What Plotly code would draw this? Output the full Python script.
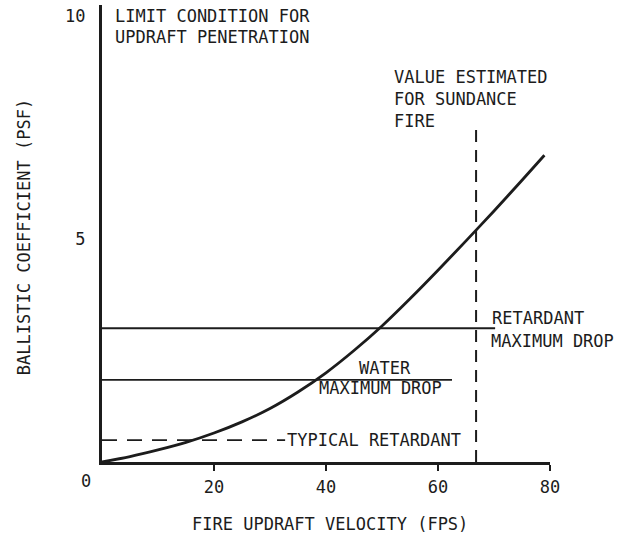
import plotly.graph_objects as go

# Ballistic coefficient required to penetrate the fire updraft
updraft_fps = [0, 5, 10, 15, 20, 25, 30, 35, 40, 45, 50, 55, 60, 65, 70, 75, 79]
ballistic_psf = [0, 0.12, 0.27, 0.44, 0.65, 0.9, 1.2, 1.57, 2.0, 2.5, 3.05, 3.66, 4.30,
                 4.96, 5.63, 6.32, 6.88]

# Reference levels (PSF) and the velocity span each line is drawn over (FPS)
retardant_max = 3.0
retardant_span = [0, 70.2]
water_max = 1.84
water_span = [0, 62.5]
typical_retardant = 0.49
typical_span = [0, 32.7]

# Updraft velocity estimated for the Sundance fire
sundance_fps = 66.8
sundance_top = 7.49

x_ticks = [20, 40, 60, 80]
y_ticks = [5, 10]

FONT = "DejaVu Sans Mono, monospace"
INK = "#1c1c1c"

fig = go.Figure()

fig.add_trace(go.Scatter(
    x=updraft_fps, y=ballistic_psf, mode="lines",
    line=dict(color=INK, width=2.8, shape="spline", smoothing=0.8),
    hoverinfo="skip", showlegend=False))

fig.add_trace(go.Scatter(
    x=retardant_span, y=[retardant_max] * 2, mode="lines",
    line=dict(color=INK, width=1.8), showlegend=False, hoverinfo="skip"))

fig.add_trace(go.Scatter(
    x=water_span, y=[water_max] * 2, mode="lines",
    line=dict(color=INK, width=1.8), showlegend=False, hoverinfo="skip"))

fig.add_trace(go.Scatter(
    x=typical_span, y=[typical_retardant] * 2, mode="lines",
    line=dict(color=INK, width=1.8, dash="15px,10px"), showlegend=False, hoverinfo="skip"))

fig.add_trace(go.Scatter(
    x=[sundance_fps, sundance_fps], y=[0, sundance_top], mode="lines",
    line=dict(color=INK, width=2, dash="12px,8px"), showlegend=False, hoverinfo="skip"))

txt = dict(family=FONT, size=17, color=INK)


def label(text, x, y, anchor="left", **kw):
    d = dict(x=x, y=y, xref="x", yref="y", xanchor=anchor, yanchor="middle",
             text=text, showarrow=False, font=txt, align="left")
    d.update(kw)
    return d


annotations = [
    label("LIMIT CONDITION FOR", 2.0, 10.0),
    label("UPDRAFT PENETRATION", 2.0, 9.53),
    label("VALUE ESTIMATED<br>FOR SUNDANCE<br>FIRE", 51.8, 8.14),
    label("RETARDANT", 69.3, 3.23),
    label("MAXIMUM DROP", 69.1, 2.71),
    label("WATER", 50.5, 2.11, anchor="center"),
    label("MAXIMUM DROP", 38.4, 1.66),
    label("TYPICAL RETARDANT", typical_span[1], typical_retardant),
    label("0", 0, 0, anchor="center", xshift=-16, yshift=-19),
    dict(x=0.509, y=-0.136, xref="paper", yref="paper", xanchor="center", yanchor="middle",
         text="FIRE UPDRAFT VELOCITY (FPS)", showarrow=False, font=txt),
    dict(x=0, y=0.492, xref="paper", yref="paper", xanchor="center", yanchor="middle",
         text="BALLISTIC COEFFICIENT (PSF)", textangle=-90, xshift=-78,
         showarrow=False, font=txt),
]

fig.update_layout(
    width=636, height=538,
    margin=dict(l=102, r=86, t=5, b=76),
    paper_bgcolor="white", plot_bgcolor="white",
    font=txt,
    annotations=annotations,
    xaxis=dict(range=[0, 80], tickvals=x_ticks, ticktext=[str(v) for v in x_ticks],
               showline=True, linecolor=INK, linewidth=3, ticks="outside",
               ticklen=6, tickwidth=2, tickcolor=INK, ticklabelstandoff=2,
               showgrid=False, zeroline=False, tickfont=txt, fixedrange=True),
    yaxis=dict(range=[0, 10.25], tickvals=y_ticks, ticktext=[str(v) for v in y_ticks],
               showline=True, linecolor=INK, linewidth=3, ticks="",
               ticklabelstandoff=10, showgrid=False, zeroline=False,
               tickfont=txt, fixedrange=True),
)

fig.write_html("out.html")
